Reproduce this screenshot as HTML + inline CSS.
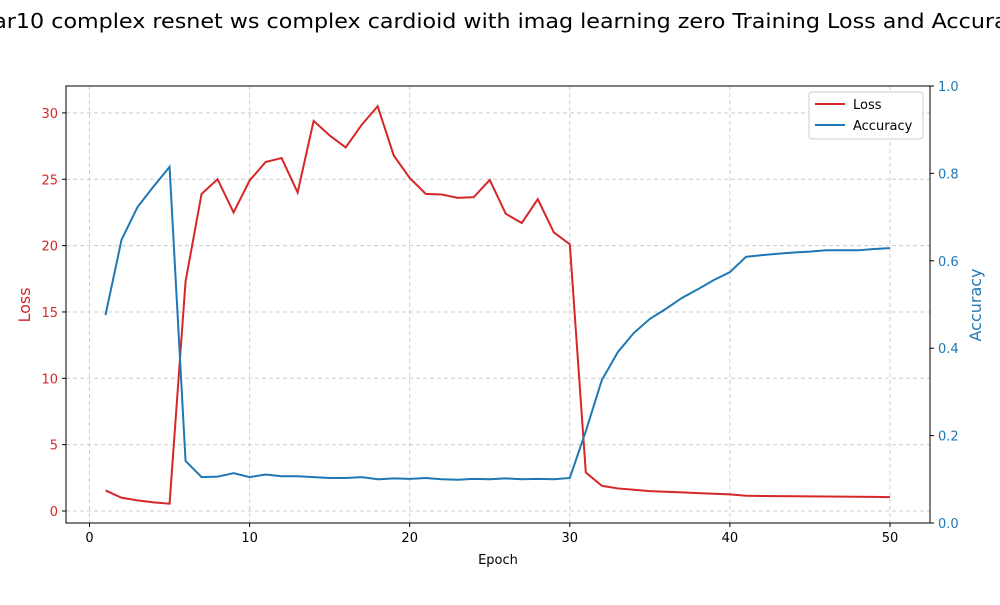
<!DOCTYPE html>
<html><head><meta charset="utf-8"><style>
body{margin:0;background:#fff;overflow:hidden;}
svg text{font-family:"DejaVu Sans","Liberation Sans",sans-serif;}
</style></head><body>
<svg id="chart" width="1000" height="600" xmlns="http://www.w3.org/2000/svg">
<text x="500" y="28" font-size="20" text-anchor="middle" textLength="1066" lengthAdjust="spacingAndGlyphs">cifar10 complex resnet ws complex cardioid with imag learning zero Training Loss and Accuracy</text>
<g id="grid"></g>
<g id="axes"></g>
<g id="series"></g>
<rect x="66" y="86" width="864" height="437" fill="none" stroke="#000" stroke-width="1"/>
<text x="498" y="564" font-size="13" text-anchor="middle">Epoch</text>
<text transform="translate(30,305) rotate(-90)" font-size="16" fill="#d62728" text-anchor="middle">Loss</text>
<text transform="translate(981,305) rotate(-90)" font-size="16" fill="#1f77b4" text-anchor="middle">Accuracy</text>
<g>
<rect x="809" y="92" width="114" height="47" rx="3" fill="#fff" stroke="#ccc"/>
<line x1="815" y1="104" x2="845" y2="104" stroke="#d62728" stroke-width="2"/>
<text x="853" y="109" font-size="13">Loss</text>
<line x1="815" y1="125" x2="845" y2="125" stroke="#1f77b4" stroke-width="2"/>
<text x="853" y="130" font-size="13">Accuracy</text>
</g>
</svg>
<script>
const epochs = Array.from({length:50},(_, i)=>i+1);
const lossValues = [1.55,1.0,0.8,0.65,0.55,17.3,23.9,25.0,22.5,24.9,26.3,26.6,24.0,29.4,28.3,27.4,29.1,30.5,26.8,25.1,23.9,23.85,23.6,23.65,24.95,22.4,21.7,23.5,21.0,20.1,2.9,1.9,1.7,1.6,1.5,1.45,1.4,1.35,1.3,1.25,1.15,1.13,1.12,1.11,1.1,1.09,1.08,1.07,1.06,1.05];
const accValues = [0.476,0.648,0.723,0.77,0.815,0.142,0.105,0.106,0.114,0.105,0.111,0.107,0.107,0.105,0.103,0.103,0.105,0.1,0.102,0.101,0.103,0.1,0.099,0.101,0.1,0.102,0.1,0.101,0.1,0.103,0.21,0.327,0.391,0.435,0.467,0.49,0.515,0.535,0.556,0.574,0.609,0.613,0.616,0.619,0.621,0.624,0.624,0.624,0.627,0.629];
const xTicks = [0,10,20,30,40,50];
const lossTicks = [0,5,10,15,20,25,30];
const accTicks = [0,0.2,0.4,0.6,0.8,1.0];
const NS="http://www.w3.org/2000/svg";
const X = v => 89.5 + v*16.01;
const YL = v => 511 - v*13.27;
const YR = v => 523 - v*437;
function mk(tag, attrs, parent, txt){const e=document.createElementNS(NS,tag);for(const k in attrs)e.setAttribute(k,attrs[k]);if(txt!==undefined)e.textContent=txt;parent.appendChild(e);return e;}
const grid=document.getElementById('grid'), axes=document.getElementById('axes'), series=document.getElementById('series');
xTicks.forEach(t=>{
  const g=mk('line',{x1:X(t),x2:X(t),y1:86,y2:523,stroke:'#ccc','stroke-dasharray':'4,3'},grid);
  
  
  mk('line',{x1:X(t),x2:X(t),y1:523,y2:527,stroke:'#000'},axes);
  const l=mk('text',{x:X(t),y:542,'font-size':13,'text-anchor':'middle'},axes,String(t));
  
  
});
lossTicks.forEach(t=>{
  const g=mk('line',{x1:66,x2:930,y1:YL(t),y2:YL(t),stroke:'#ccc','stroke-dasharray':'4,3'},grid);
  
  
  mk('line',{x1:62,x2:66,y1:YL(t),y2:YL(t),stroke:'#000'},axes);
  const l=mk('text',{x:58,y:YL(t)+5,'font-size':13,'text-anchor':'end',fill:'#d62728'},axes,String(t));
  
  
});
accTicks.forEach(t=>{
  mk('line',{x1:930,x2:934,y1:YR(t),y2:YR(t),stroke:'#000'},axes);
  const l=mk('text',{x:938,y:YR(t)+5,'font-size':13,fill:'#1f77b4'},axes,t.toFixed(1));
  
  
});
const lp=mk('polyline',{points:epochs.map((e,i)=>X(e)+','+YL(lossValues[i])).join(' '),fill:'none',stroke:'#d62728','stroke-width':2},series);


const ap=mk('polyline',{points:epochs.map((e,i)=>X(e)+','+YR(accValues[i])).join(' '),fill:'none',stroke:'#1f77b4','stroke-width':2},series);


</script>
</body></html>
